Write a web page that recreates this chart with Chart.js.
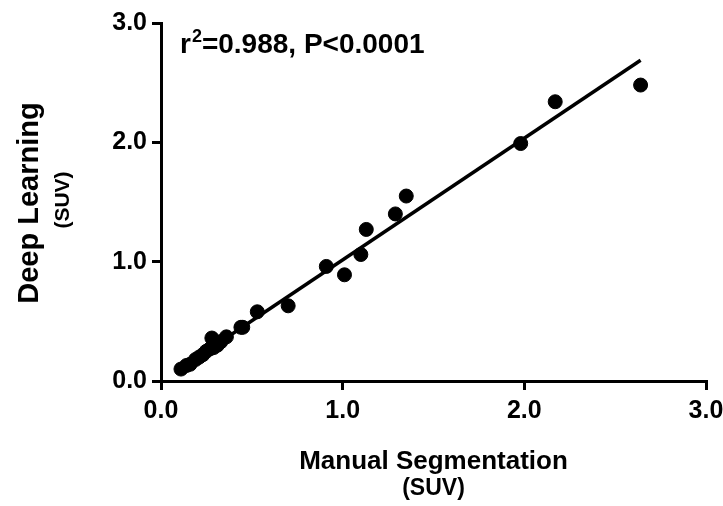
<!DOCTYPE html>
<html lang="en">
<head>
<meta charset="UTF-8">
<title>Deep Learning vs Manual Segmentation</title>
<script src="https://cdn.jsdelivr.net/npm/chart.js"></script>
<style>
  html, body { margin: 0; padding: 0; background: #fff; }
  #wrap { width: 723px; height: 506px; }
</style>
</head>
<body>
<div id="wrap"><canvas id="grafico"></canvas></div>
<script>
// valores (SUV)
const manualSUV = [0.11, 0.14, 0.16, 0.19, 0.21, 0.23, 0.25, 0.27, 0.28, 0.29, 0.31, 0.33, 0.36, 0.44, 0.45,
                   0.53, 0.70, 0.91, 1.01, 1.10, 1.13, 1.29, 1.35, 1.98, 2.17, 2.64]
const deepSUV   = [0.10, 0.13, 0.14, 0.18, 0.20, 0.22, 0.25, 0.27, 0.36, 0.28, 0.30, 0.33, 0.37, 0.45, 0.45,
                   0.58, 0.63, 0.96, 0.89, 1.06, 1.27, 1.40, 1.55, 1.99, 2.34, 2.48]
// recta de regresion (extremos)
const rectaX = [0.11, 2.64]
const rectaY = [0.107, 2.688]
const ticksEje = [0, 1, 2, 3]
const textoR = ['r', '2', '=0.988, P<0.0001']
const tituloX = ['Manual Segmentation', '(SUV)']
const tituloY = ['Deep Learning', '(SUV)']

const fuente = '"Liberation Sans", Arial, sans-serif'

const puntos = manualSUV.map((x, i) => ({ x: x, y: deepSUV[i] }))
const recta = rectaX.map((x, i) => ({ x: x, y: rectaY[i] }))

const textos = {
    id: 'textos',
    afterDraw(chart) {
        const ctx = chart.ctx
        const area = chart.chartArea
        ctx.save()
        ctx.fillStyle = '#000'
        ctx.textBaseline = 'alphabetic'

        // anotacion r2
        let x = 180
        ctx.textAlign = 'left'
        ctx.font = 'bold 28px ' + fuente
        ctx.fillText(textoR[0], x, 53)
        x += ctx.measureText(textoR[0]).width + 1
        ctx.font = 'bold 18px ' + fuente
        ctx.fillText(textoR[1], x, 42)
        x += ctx.measureText(textoR[1]).width
        ctx.font = 'bold 28px ' + fuente
        ctx.fillText(textoR[2], x, 53)

        // titulo eje x
        const cx = (area.left + area.right) / 2
        ctx.textAlign = 'center'
        ctx.font = 'bold 26px ' + fuente
        ctx.fillText(tituloX[0], cx, 469)
        ctx.font = 'bold 23px ' + fuente
        ctx.fillText(tituloX[1], cx, 495)

        // titulo eje y
        ctx.save()
        ctx.translate(38, 203)
        ctx.rotate(-Math.PI / 2)
        ctx.font = 'bold 29px ' + fuente
        ctx.fillText(tituloY[0], 0, 0)
        ctx.restore()
        ctx.save()
        ctx.translate(69, 200)
        ctx.rotate(-Math.PI / 2)
        ctx.font = 'bold 21px ' + fuente
        ctx.fillText(tituloY[1], 0, 0)
        ctx.restore()

        ctx.restore()
    }
}

const ejeComun = {
    type: 'linear',
    min: 0,
    max: 3,
    afterBuildTicks: (scale) => { scale.ticks = ticksEje.map(v => ({ value: v })) },
    border: { display: true, color: '#000', width: 3 },
    grid: { display: true, drawOnChartArea: false, drawTicks: true, tickLength: 9, lineWidth: 3, color: '#000' },
    ticks: {
        color: '#000',
        font: { family: fuente, size: 25, weight: 'bold' },
        callback: (v) => Number(v).toFixed(1)
    }
}

new Chart(document.querySelector('#grafico'), {
    type: 'scatter',
    data: {
        datasets: [
            {
                data: recta,
                showLine: true,
                borderColor: '#000',
                borderWidth: 3.5,
                pointRadius: 0,
                pointHoverRadius: 0
            },
            {
                data: puntos,
                backgroundColor: '#000',
                borderColor: '#000',
                pointRadius: 7,
                pointHoverRadius: 7
            }
        ]
    },
    options: {
        responsive: true,
        maintainAspectRatio: false,
        animation: false,
        clip: false,
        layout: { padding: { left: 0, right: 17, top: 23, bottom: 0 } },
        plugins: { legend: { display: false }, tooltip: { enabled: false } },
        scales: {
            x: Object.assign({}, ejeComun, {
                position: 'bottom',
                ticks: Object.assign({}, ejeComun.ticks, { padding: 6, maxRotation: 0 }),
                afterFit: (scale) => {
                    scale.height = 125
                    scale.paddingLeft = 0
                    scale.paddingRight = 0
                }
            }),
            y: Object.assign({}, ejeComun, {
                position: 'left',
                ticks: Object.assign({}, ejeComun.ticks, { padding: 5 }),
                afterFit: (scale) => {
                    scale.width = 161
                    scale.paddingTop = 0
                    scale.paddingBottom = 0
                }
            })
        }
    },
    plugins: [textos]
})
</script>
</body>
</html>
